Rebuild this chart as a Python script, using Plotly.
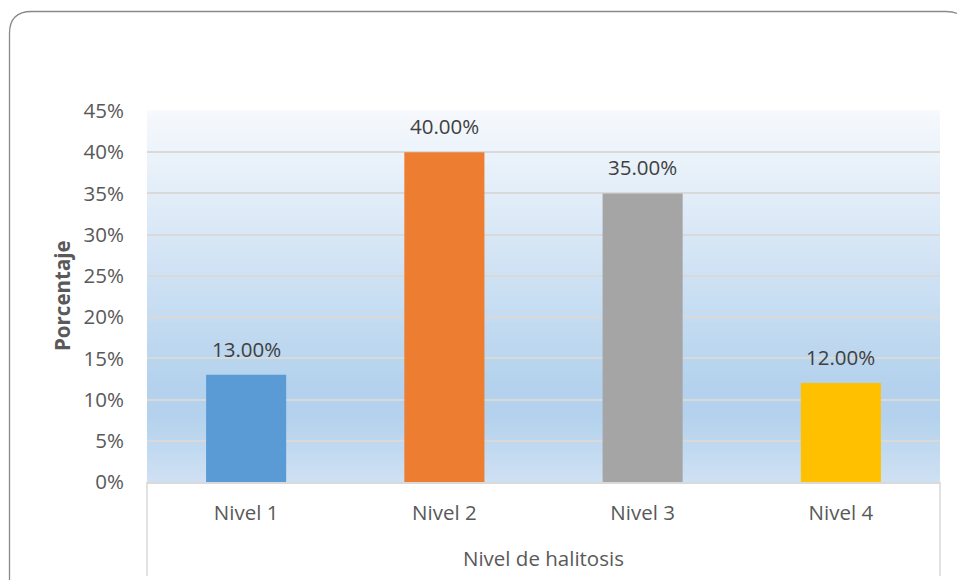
import plotly.graph_objects as go

# --- data ---
categories = ["Nivel 1", "Nivel 2", "Nivel 3", "Nivel 4"]
percentages = [0.13, 0.40, 0.35, 0.12]
bar_colors = ["#5B9BD5", "#ED7D31", "#A5A5A5", "#FFC000"]
y_ticks = [0, 0.05, 0.10, 0.15, 0.20, 0.25, 0.30, 0.35, 0.40, 0.45]
y_tick_labels = [f"{int(round(v * 100))}%" for v in y_ticks]
x_title = "Nivel de halitosis"
y_title = "Porcentaje"

W, H = 957, 580
L, R, T, B = 147, 940, 111, 482   # plot area in pixels
FONT = "Open Sans, Noto Sans, sans-serif"
FS = 20.5


def px(x):
    return (x - L) / (R - L)


def py(y):
    return (B - y) / (B - T)


fig = go.Figure()
fig.add_trace(go.Bar(
    x=categories,
    y=percentages,
    marker=dict(color=bar_colors, line=dict(width=0)),
    width=0.404,
    hoverinfo="x+y",
))

shapes = []

# vertical gradient fill for the plot area (top light -> blue band -> lighter bottom)
stops = [(0.0, (0xF6, 0xF9, 0xFD)), (0.74, (0xB4, 0xD2, 0xED)),
         (0.83, (0xB4, 0xD2, 0xED)), (1.0, (0xCF, 0xE1, 0xF3))]


def grad(t):
    for (p0, c0), (p1, c1) in zip(stops, stops[1:]):
        if p0 <= t <= p1:
            f = 0 if p1 == p0 else (t - p0) / (p1 - p0)
            return "rgb(%d,%d,%d)" % tuple(round(a + (b - a) * f) for a, b in zip(c0, c1))
    return "rgb(%d,%d,%d)" % stops[-1][1]


n_bands = 120
for i in range(n_bands):
    t = (i + 0.5) / n_bands          # fraction from top
    y1 = 1 - i / n_bands
    y0 = 1 - (i + 1) / n_bands
    shapes.append(dict(type="rect", xref="x domain", yref="y domain",
                       x0=0, x1=1, y0=y0 - 0.002, y1=y1 + 0.002,
                       fillcolor=grad(t), line=dict(width=0), layer="below"))

# category axis box sides
for xpix in (L, R):
    shapes.append(dict(type="line", xref="paper", yref="paper",
                       x0=px(xpix), x1=px(xpix), y0=py(B), y1=py(576),
                       line=dict(color="#D9D9D9", width=1.5), layer="above"))

# rounded outer chart border
bl, bt, br, bb, r = 9.5, 11.5, 968, 600, 22
pts = [
    ("M", [(bl, bt + r)]),
    ("Q", [(bl, bt), (bl + r, bt)]),
    ("L", [(br - r, bt)]),
    ("Q", [(br, bt), (br, bt + r)]),
    ("L", [(br, bb)]),
    ("L", [(bl, bb)]),
]
path = " ".join(cmd + " " + " ".join(f"{px(x):.5f},{py(y):.5f}" for x, y in p) for cmd, p in pts) + " Z"
shapes.append(dict(type="path", xref="paper", yref="paper", path=path,
                   line=dict(color="#898989", width=1.3), fillcolor="rgba(0,0,0,0)",
                   layer="above"))

annotations = []
# value labels above each bar
for c, v in zip(categories, percentages):
    annotations.append(dict(x=c, y=v, xref="x", yref="y", text=f"{v * 100:.2f}%",
                            showarrow=False, yanchor="middle", yshift=26,
                            font=dict(family=FONT, size=FS, color="#404040")))

annotations.append(dict(x=0.5, y=py(558), xref="paper", yref="paper", text=x_title,
                        showarrow=False, xanchor="center", yanchor="middle",
                        font=dict(family=FONT, size=FS, color="#595959")))
annotations.append(dict(x=px(62), y=py(296), xref="paper", yref="paper",
                        text=f"<b>{y_title}</b>", textangle=-90,
                        showarrow=False, xanchor="center", yanchor="middle",
                        font=dict(family=FONT, size=FS, color="#595959")))

fig.update_layout(
    width=W, height=H,
    margin=dict(l=L, r=W - R, t=T, b=H - B, pad=0),
    paper_bgcolor="white",
    plot_bgcolor="rgba(0,0,0,0)",
    showlegend=False,
    bargap=0.596,
    shapes=shapes,
    annotations=annotations,
    xaxis=dict(
        type="category",
        showgrid=False,
        showline=True, linecolor="#D9D9D9", linewidth=1.5,
        ticks="", ticklabelstandoff=12,
        tickfont=dict(family=FONT, size=FS, color="#595959"),
        fixedrange=True,
    ),
    yaxis=dict(
        range=[0, 0.45],
        tickvals=y_ticks, ticktext=y_tick_labels,
        showgrid=True, gridcolor="#D9D9D9", gridwidth=1.5,
        zeroline=False, showline=False,
        ticks="", ticklabelstandoff=22,
        tickfont=dict(family=FONT, size=FS, color="#595959"),
        fixedrange=True,
    ),
)

fig.write_html("out.html")
